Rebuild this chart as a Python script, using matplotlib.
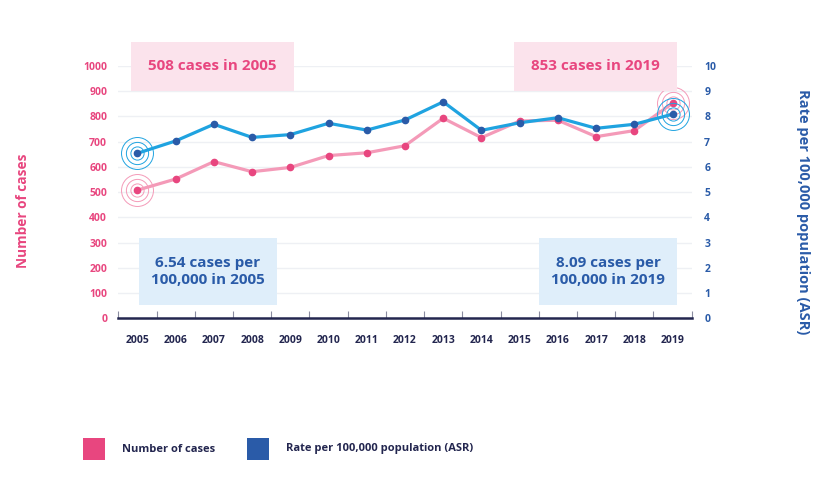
import matplotlib
matplotlib.use("agg")
import matplotlib.pyplot as plt
from matplotlib.patches import Rectangle

# Data
years = ["2005", "2006", "2007", "2008", "2009", "2010", "2011", "2012",
         "2013", "2014", "2015", "2016", "2017", "2018", "2019"]
cases = [508, 552, 621, 581, 598, 645, 656, 684, 793, 716, 782, 785, 720, 744, 853]
rate = [6.54, 7.03, 7.69, 7.17, 7.28, 7.73, 7.46, 7.86, 8.58, 7.45, 7.75, 7.95, 7.53, 7.69, 8.09]
cases_ticks = [0, 100, 200, 300, 400, 500, 600, 700, 800, 900, 1000]
rate_ticks = [0, 1, 2, 3, 4, 5, 6, 7, 8, 9, 10]

PINK = "#e8467f"
PINK_LINE = "#f49ab8"
PINK_BOX = "#fbe3ec"
BLUE = "#2a5ba8"
BLUE_LINE = "#1fa3e0"
BLUE_BOX = "#dfeefa"
NAVY = "#23264f"
GRID = "#eef0f4"

plt.rcParams["font.family"] = ["Open Sans", "DejaVu Sans"]
plt.rcParams["font.weight"] = "bold"

W, H = 839, 482
fig = plt.figure(figsize=(W / 100, H / 100), dpi=100)


def px(x0, y0, x1, y1):
    # pixel box (top-left origin) -> figure fraction rect
    return x0 / W, 1 - y1 / H, (x1 - x0) / W, (y1 - y0) / H


ax = fig.add_axes(px(118.3, 66, 691.7, 318.3))
ax2 = ax.twinx()

x = list(range(len(years)))
ax.set_xlim(-0.5, len(years) - 0.5)
ax.set_ylim(0, 1000)
ax2.set_ylim(0, 10)

for v in cases_ticks[1:]:
    ax.axhline(v, color=GRID, lw=1.0, zorder=0)

ax.plot(x, cases, color=PINK_LINE, lw=2.3, zorder=3, solid_capstyle="round")
ax.plot(x, cases, "o", color=PINK, ms=4.5, zorder=4)
ax2.plot(x, rate, color=BLUE_LINE, lw=2.3, zorder=3, solid_capstyle="round")
ax2.plot(x, rate, "o", color=BLUE, ms=4.5, zorder=4)

# target rings on first and last points
for i in (0, len(years) - 1):
    for ms in (9.5, 16, 23):
        ax.plot(x[i], cases[i], "o", mfc="none", mec=PINK_LINE, mew=0.7, ms=ms, zorder=2)
        ax2.plot(x[i], rate[i], "o", mfc="none", mec=BLUE_LINE, mew=0.7, ms=ms, zorder=2)

ax.set_xticks(x)
ax.set_xticklabels(years, color=NAVY, fontsize=7.5, fontweight="bold")
ax.tick_params(axis="x", which="major", length=0, pad=12)
ax.set_xticks([i - 0.5 for i in range(len(years) + 1)], minor=True)
ax.tick_params(axis="x", which="minor", direction="in", length=5, width=0.8, color="#8a8ca0")

ax.set_yticks(cases_ticks)
ax.set_yticklabels([str(v) for v in cases_ticks], color=PINK, fontsize=7.5, fontweight="bold")
ax.tick_params(axis="y", length=0, pad=8)
ax2.set_yticks(rate_ticks)
ax2.set_yticklabels([str(v) for v in rate_ticks], color=BLUE, fontsize=7.5, fontweight="bold")
ax2.tick_params(axis="y", length=0, pad=9)

for a in (ax, ax2):
    for s in ("top", "left", "right", "bottom"):
        a.spines[s].set_visible(False)
ax2.spines["bottom"].set_visible(True)
ax2.spines["bottom"].set_color(NAVY)
ax2.spines["bottom"].set_linewidth(1.8)

fig.text(23 / W, 1 - 211 / H, "Number of cases", rotation=90, color=PINK,
         fontsize=9.8, fontweight="bold", ha="center", va="center")
fig.text(803.5 / W, 1 - 211.5 / H, "Rate per 100,000 population (ASR)", rotation=-90,
         color=BLUE, fontsize=10.5, fontweight="bold", ha="center", va="center")

# annotation boxes
boxes = [
    ((130.7, 42.3, 294, 90.7), PINK_BOX, PINK, "508 cases in 2005"),
    ((513.7, 42.3, 677, 90.7), PINK_BOX, PINK, "853 cases in 2019"),
    ((139, 238.3, 276.7, 305), BLUE_BOX, BLUE, "6.54 cases per\n100,000 in 2005"),
    ((539.3, 238.3, 677, 305), BLUE_BOX, BLUE, "8.09 cases per\n100,000 in 2019"),
]
for (x0, y0, x1, y1), fc, tc, label in boxes:
    fig.patches.append(Rectangle(px(x0, y0, x1, y1)[:2], (x1 - x0) / W, (y1 - y0) / H,
                                 transform=fig.transFigure, facecolor=fc, edgecolor="none",
                                 zorder=0))
    fig.text((x0 + x1) / 2 / W, 1 - (y0 + y1) / 2 / H, label, color=tc, fontsize=11,
             fontweight="bold", ha="center", va="center", linespacing=1.25)

# legend
for (x0, label, fc) in [(83, "Number of cases", PINK), (247, "Rate per 100,000 population (ASR)", BLUE)]:
    fig.patches.append(Rectangle((x0 / W, 1 - 460 / H), 22 / W, 22 / H,
                                 transform=fig.transFigure, facecolor=fc, edgecolor="none"))
    fig.text((x0 + 39) / W, 1 - 449 / H, label, color=NAVY, fontsize=8,
             fontweight="bold", ha="left", va="center")

fig.savefig("out.png", dpi=100, facecolor="white")
